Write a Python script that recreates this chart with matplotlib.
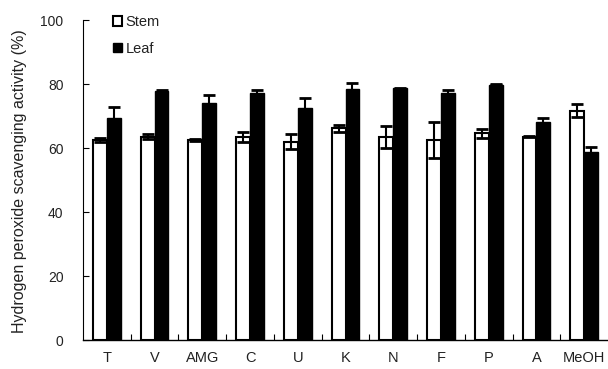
import numpy as np
import matplotlib.pyplot as plt
from matplotlib.patches import Patch

plt.rcParams['font.family'] = ['Liberation Sans', 'DejaVu Sans']

categories = ['T', 'V', 'AMG', 'C', 'U', 'K', 'N', 'F', 'P', 'A', 'MeOH']
stem = [62.5, 63.5, 62.5, 63.5, 62.0, 66.1, 63.5, 62.5, 64.6, 63.5, 71.7]
stem_err = [0.5, 0.8, 0.3, 1.6, 2.3, 1.1, 3.4, 5.6, 1.4, 0.2, 2.0]
leaf = [69.3, 77.9, 74.0, 77.1, 72.4, 78.3, 78.7, 77.3, 79.8, 68.2, 58.6]
leaf_err = [3.6, 0.3, 2.6, 1.0, 3.1, 2.1, 0.2, 0.8, 0.2, 1.2, 1.7]

fig = plt.figure(figsize=(6.08, 3.69), dpi=100)
ax = fig.add_axes([83 / 608, 29 / 369, 525 / 608, 320 / 369])

x = np.arange(len(categories))
w = 0.29
ekw = dict(ecolor='black', elinewidth=1.5, capsize=4.5, capthick=2)

ax.bar(x - w / 2, stem, w, color='white', edgecolor='black', linewidth=1.5,
       yerr=stem_err, error_kw=ekw, zorder=2)
ax.bar(x + w / 2, leaf, w, color='black', edgecolor='black', linewidth=1.0,
       yerr=leaf_err, error_kw=ekw, zorder=2)

ax.set_xlim(-0.5, len(categories) - 0.5)
ax.set_ylim(0, 100)
ax.set_yticks(range(0, 101, 20))

# category labels under groups, boundary tick marks pointing up
ax.set_xticks(x)
ax.set_xticklabels(categories, fontsize=10.5, color='#222222')
ax.tick_params(axis='x', which='major', length=0, pad=8)
ax.set_xticks(np.arange(0.5, len(categories) - 0.5, 1), minor=True)
ax.tick_params(axis='x', which='minor', direction='in', length=4, width=0.8)
ax.tick_params(axis='y', direction='in', length=4, width=0.8, pad=14,
               labelsize=10, labelcolor='#222222')

for s in ['top', 'right']:
    ax.spines[s].set_visible(False)
ax.spines['left'].set_linewidth(0.8)
ax.spines['bottom'].set_linewidth(1.0)

ax.set_ylabel('Hydrogen peroxide scavenging activity (%)', fontsize=11.5,
              color='#222222', va='center')
ax.yaxis.set_label_coords(-0.12, 0.495)

handles = [Patch(facecolor='white', edgecolor='black', linewidth=1.5, label='Stem'),
           Patch(facecolor='black', edgecolor='black', label='Leaf')]
ax.legend(handles=handles, loc='upper left', bbox_to_anchor=(0.057, 1.015),
          frameon=False, handlelength=0.6, handleheight=0.6,
          handletextpad=0.25, labelspacing=0.85, borderpad=0, borderaxespad=0,
          fontsize=10.5, labelcolor='#222222')

fig.savefig('out.png', dpi=100)
